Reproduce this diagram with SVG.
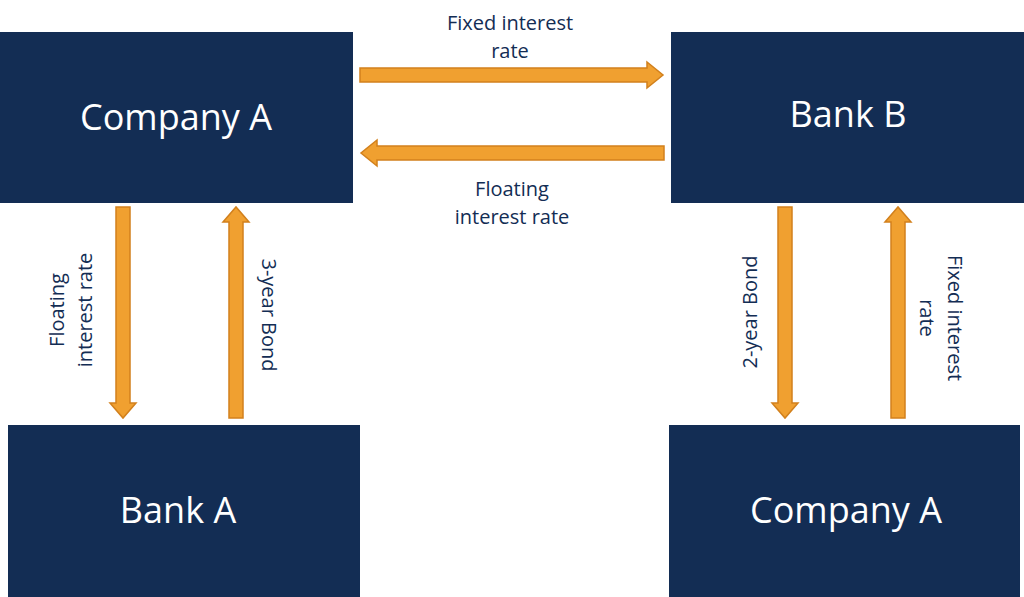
<svg xmlns="http://www.w3.org/2000/svg" width="1024" height="597" viewBox="0 0 1024 597">
<style>
.box{fill:#132d54}
.bt{fill:#fff;font-family:"Open Sans",sans-serif;font-size:36px;text-anchor:middle}
.lt{fill:#132d54;font-family:"Open Sans",sans-serif;font-size:20px;text-anchor:middle}
.ar{fill:#f0a030;stroke:#d2801c;stroke-width:1.5}
</style>
<rect width="1024" height="597" fill="#fff"/>
<g id="companyA1"><rect class="box" x="0" y="32" width="353" height="171"/><text class="bt" x="176" y="130">Company A</text></g>
<g id="bankB"><rect class="box" x="671" y="32" width="353" height="171"/><text class="bt" x="848" y="127">Bank B</text></g>
<g id="bankA"><rect class="box" x="8" y="425" width="352" height="172"/><text class="bt" x="178" y="523">Bank A</text></g>
<g id="companyA2"><rect class="box" x="669" y="425" width="351" height="172"/><text class="bt" x="846" y="523">Company A</text></g>
<g id="connectors">
<polygon class="ar" points="360,68 647,68 647,62 663,75 647,88 647,82 360,82"/>
<polygon class="ar" points="664,146 377,146 377,140 361,153 377,166 377,160 664,160"/>
<polygon class="ar" points="116,207 130,207 130,403 136,403 123,418 110,403 116,403"/>
<polygon class="ar" points="229,418 243,418 243,222 249,222 236,207 223,222 229,222"/>
<polygon class="ar" points="778,207 792,207 792,403 798,403 785,418 772,403 778,403"/>
<polygon class="ar" points="891,418 905,418 905,222 911,222 898,207 885,222 891,222"/>
</g>
<g id="labels">
<text class="lt" x="510" y="30">Fixed interest</text><text class="lt" x="510" y="58">rate</text>
<text class="lt" x="512" y="196">Floating</text><text class="lt" x="512" y="224">interest rate</text>
<g transform="translate(64,310) rotate(-90)"><text class="lt" x="0" y="0">Floating</text><text class="lt" x="0" y="28">interest rate</text></g>
<g transform="translate(262,315) rotate(90)"><text class="lt" x="0" y="0">3-year Bond</text></g>
<g transform="translate(757,312) rotate(-90)"><text class="lt" x="0" y="0">2-year Bond</text></g>
<g transform="translate(948,318) rotate(90)"><text class="lt" x="0" y="0">Fixed interest</text><text class="lt" x="0" y="28">rate</text></g>
</g>
</svg>
